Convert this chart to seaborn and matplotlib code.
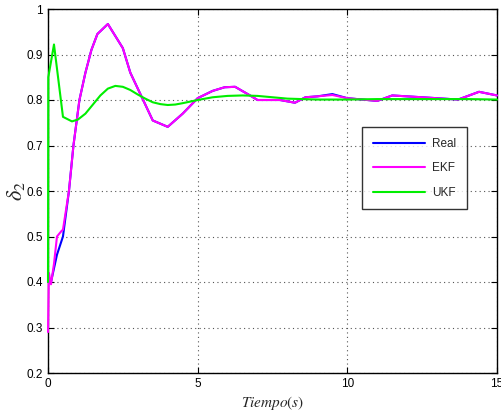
import numpy as np
import pandas as pd
import matplotlib
matplotlib.use("Agg")
import matplotlib.pyplot as plt
import seaborn as sns
from matplotlib.ticker import FuncFormatter

# ---- data ----
t_ekf = [0, 0.03, 0.1, 0.2, 0.3, 0.45, 0.5, 0.7, 0.85, 1.05, 1.25, 1.45, 1.65, 2.0,
         2.5, 2.75, 3.5, 4.0, 4.5, 5.0, 5.5, 5.9, 6.25, 6.75, 7.0, 7.75, 8.25, 8.6,
         9.0, 9.5, 10.0, 11.0, 11.5, 12.5, 13.7, 14.4, 15.0]
ekf = [0.29, 0.42, 0.395, 0.44, 0.50, 0.512, 0.515, 0.60, 0.70, 0.80, 0.86, 0.91, 0.945, 0.967,
       0.914, 0.86, 0.755, 0.741, 0.77, 0.804, 0.82, 0.828, 0.829, 0.81, 0.80, 0.80, 0.794, 0.806,
       0.808, 0.811, 0.804, 0.798, 0.81, 0.806, 0.801, 0.818, 0.81]

t_real = [0, 0.1, 0.3, 0.5, 0.7, 0.85, 1.05, 1.25, 1.45, 1.65, 2.0,
          2.5, 2.75, 3.5, 4.0, 4.5, 5.0, 5.5, 5.9, 6.25, 6.75, 7.0, 7.75, 8.25, 8.6,
          9.0, 9.5, 10.0, 11.0, 11.5, 12.5, 13.7, 14.4, 15.0]
real = [0.40, 0.40, 0.46, 0.50, 0.60, 0.70, 0.80, 0.86, 0.91, 0.945, 0.967,
        0.914, 0.86, 0.755, 0.741, 0.77, 0.804, 0.82, 0.828, 0.829, 0.81, 0.80, 0.80, 0.794, 0.806,
        0.808, 0.813, 0.804, 0.798, 0.81, 0.806, 0.801, 0.818, 0.81]

t_ukf = [0, 0.01, 0.2, 0.5, 0.8, 1.0, 1.25, 1.5, 1.75, 2.0, 2.25, 2.5, 2.75, 3.0, 3.25,
         3.5, 3.75, 4.0, 4.25, 4.5, 5.0, 5.5, 6.0, 6.5, 7.0, 7.5, 8.0, 9.0, 10.0, 11.0,
         12.0, 13.0, 14.0, 15.0]
ukf = [0.40, 0.85, 0.922, 0.763, 0.753, 0.757, 0.770, 0.790, 0.810, 0.825, 0.831, 0.829, 0.822,
       0.812, 0.803, 0.795, 0.791, 0.789, 0.790, 0.793, 0.800, 0.806, 0.809, 0.810, 0.809, 0.806,
       0.803, 0.801, 0.801, 0.802, 0.802, 0.802, 0.802, 0.801]

labels = ["Real", "EKF", "UKF"]
colors = ["#0000ff", "#ff00ff", "#00ee00"]
xticks = [0, 5, 10, 15]
yticks = [0.2, 0.3, 0.4, 0.5, 0.6, 0.7, 0.8, 0.9, 1.0]

sns.set_style("ticks")
plt.rcParams["font.family"] = ["Liberation Sans", "DejaVu Sans"]
plt.rcParams["mathtext.fontset"] = "stix"

fig = plt.figure(figsize=(5.02, 4.18), dpi=100)
ax = fig.add_axes([48/502, 1-373/418, 449/502, 364/418])

for tt, vv, lab, col in zip([t_real, t_ekf, t_ukf], [real, ekf, ukf], labels, colors):
    df = pd.DataFrame({"t": tt, "v": vv})
    sns.lineplot(data=df, x="t", y="v", ax=ax, color=col, lw=1.5, label=lab,
                 estimator=None, sort=False, zorder=3)
for ln in ax.get_lines():
    ln.set_clip_on(False)

ax.set_xlim(0, 15)
ax.set_ylim(0.2, 1.0)
ax.set_xticks(xticks)
ax.set_yticks(yticks)
ax.yaxis.set_major_formatter(FuncFormatter(lambda v, p: "%g" % v))
ax.xaxis.set_major_formatter(FuncFormatter(lambda v, p: "%g" % v))
ax.grid(True, linestyle=(0, (1, 3)), color="#555555", linewidth=0.8)
ax.tick_params(direction="in", top=True, right=True, length=4, width=0.8,
               labelsize=8.5, colors="black")
for s in ax.spines.values():
    s.set_visible(True)
    s.set_color("black")
    s.set_linewidth(1.0)

ax.set_xlabel(r"$Tiempo(s)$", fontsize=11, labelpad=3)
ax.set_ylabel(r"$\delta_2$", fontsize=16, labelpad=0)

leg = ax.legend(loc="upper left", bbox_to_anchor=(0.70, 0.675), frameon=True,
                fancybox=False, edgecolor="black", fontsize=8.5, handlelength=4.4,
                labelspacing=1.05, borderpad=0.9, handletextpad=0.6, borderaxespad=0)
leg.get_frame().set_linewidth(1.0)

fig.savefig("out.png", dpi=100)
